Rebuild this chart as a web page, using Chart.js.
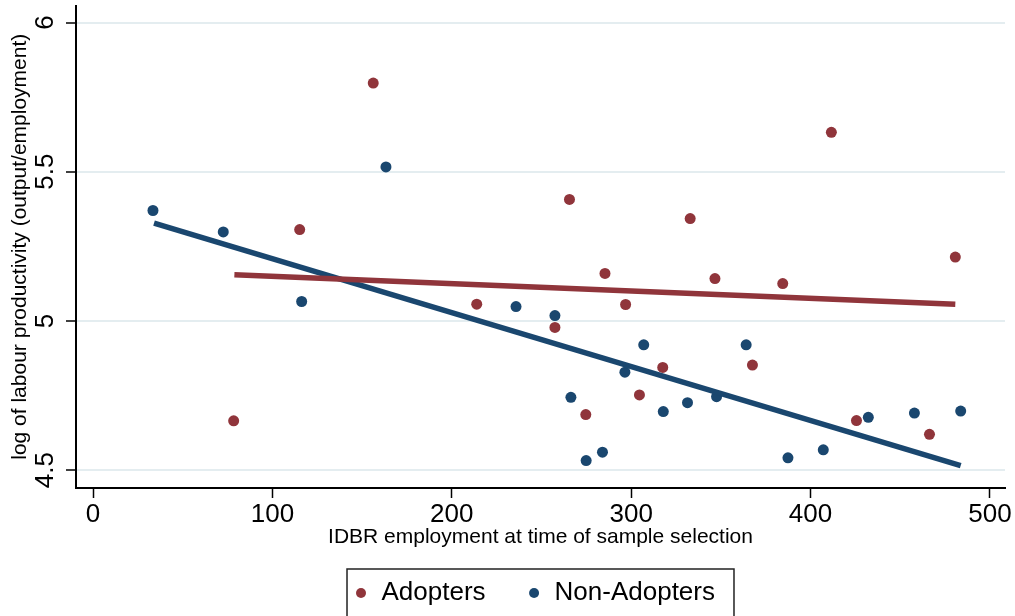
<!DOCTYPE html>
<html>
<head>
<meta charset="utf-8">
<title>Labour productivity vs IDBR employment</title>
<script src="https://cdn.jsdelivr.net/npm/chart.js@4.4.0/dist/chart.umd.min.js"></script>
<style>
  html, body { margin: 0; padding: 0; background: #fff; }
  #wrap { width: 1015px; height: 616px; position: relative; }
</style>
</head>
<body>
<div id="wrap"><canvas id="scatter"></canvas></div>
<script>
// values
const seriesNames = ['Adopters', 'Non-Adopters'];

const adoptersX = [78.4, 115.2, 156.2, 213.9, 257.5, 265.6, 274.7, 285.4, 296.9, 304.6,
                   317.6, 332.9, 346.7, 367.6, 384.5, 411.6, 425.6, 466.3, 480.7];
const adoptersY = [4.665, 5.306, 5.797, 5.056, 4.978, 5.407, 4.686, 5.159, 5.055, 4.752,
                   4.844, 5.343, 5.142, 4.852, 5.125, 5.632, 4.666, 4.620, 5.214];

const nonAdoptersX = [33.4, 72.6, 116.3, 163.3, 235.8, 257.5, 266.4, 274.9, 284.0, 296.5,
                      307.0, 317.9, 331.4, 347.6, 364.1, 387.4, 407.1, 432.2, 457.9, 483.7];
const nonAdoptersY = [5.370, 5.298, 5.065, 5.516, 5.048, 5.018, 4.744, 4.532, 4.560, 4.828,
                      4.920, 4.696, 4.726, 4.746, 4.920, 4.541, 4.568, 4.677, 4.691, 4.698];

// fitted lines (end points)
const adoptersFitX = [78.8, 480.7];
const adoptersFitY = [5.155, 5.056];
const nonAdoptersFitX = [34.0, 483.7];
const nonAdoptersFitY = [5.328, 4.515];

const xTicks = [0, 100, 200, 300, 400, 500];
const yTicks = [4.5, 5, 5.5, 6];
const xTitle = 'IDBR employment at time of sample selection';
const yTitle = 'log of labour productivity (output/employment)';

const maroon = '#90353b';
const navy = '#1a476f';
const fontFamily = '"Liberation Sans", Arial, Helvetica, sans-serif';

const pts = (xs, ys) => xs.map((x, i) => ({ x: x, y: ys[i] }));

// Stata style legend: boxed, under the plot
const boxedLegend = {
  id: 'boxedLegend',
  afterDraw(chart) {
    const ctx = chart.ctx;
    const area = chart.chartArea;
    const sets = chart.data.datasets.filter(d => d.type !== 'line');
    ctx.save();
    ctx.font = '26px ' + fontFamily;
    const widths = sets.map(d => ctx.measureText(d.label).width);
    let boxW = 14 + 19;
    widths.forEach((w, i) => { boxW += 20.5 + w + (i < widths.length - 1 ? 48.5 : 0); });
    const left = (area.left + area.right) / 2 - boxW / 2;
    const top = 569, midY = 593;
    ctx.strokeStyle = '#222';
    ctx.lineWidth = 1.5;
    ctx.strokeRect(left, top, boxW, 80);
    let x = left + 14;
    sets.forEach((d, i) => {
      ctx.fillStyle = d.backgroundColor;
      ctx.beginPath();
      ctx.arc(x, midY, 5, 0, Math.PI * 2);
      ctx.fill();
      ctx.fillStyle = '#000';
      ctx.textAlign = 'left';
      ctx.textBaseline = 'middle';
      ctx.fillText(d.label, x + 20.5, midY);
      x += 20.5 + widths[i] + 48.5;
    });
    ctx.restore();
  }
};

new Chart(document.getElementById('scatter'), {
  type: 'scatter',
  data: {
    datasets: [
      { type: 'line', label: 'fit ' + seriesNames[0], data: pts(adoptersFitX, adoptersFitY),
        borderColor: maroon, borderWidth: 5.5, pointRadius: 0, fill: false, order: 0 },
      { type: 'line', label: 'fit ' + seriesNames[1], data: pts(nonAdoptersFitX, nonAdoptersFitY),
        borderColor: navy, borderWidth: 5.5, pointRadius: 0, fill: false, order: 1 },
      { label: seriesNames[0], data: pts(adoptersX, adoptersY),
        backgroundColor: maroon, borderWidth: 0, pointRadius: 5.5, order: 2 },
      { label: seriesNames[1], data: pts(nonAdoptersX, nonAdoptersY),
        backgroundColor: navy, borderWidth: 0, pointRadius: 5.5, order: 3 }
    ]
  },
  options: {
    responsive: true,
    maintainAspectRatio: false,
    devicePixelRatio: 1,
    animation: false,
    layout: { padding: { top: 5, right: 10, bottom: 66, left: 0 } },
    plugins: {
      legend: { display: false },
      tooltip: { enabled: false }
    },
    scales: {
      x: {
        type: 'linear',
        min: -9.5,
        max: 508.4,
        afterBuildTicks: s => { s.ticks = xTicks.map(v => ({ value: v })); },
        afterFit: s => { s.height = 62; },
        grid: { drawOnChartArea: false, tickLength: 10, tickColor: '#000', tickWidth: 1.5 },
        border: { color: '#000', width: 2 },
        ticks: {
          color: '#000', font: { family: fontFamily, size: 26 }, padding: 1,
          maxRotation: 0, autoSkip: false, callback: v => String(v)
        },
        title: {
          display: true, text: xTitle, color: '#000',
          font: { family: fontFamily, size: 21 }, padding: { top: 0, bottom: 0 }
        }
      },
      y: {
        type: 'linear',
        min: 4.44,
        max: 6.057,
        afterBuildTicks: s => { s.ticks = yTicks.map(v => ({ value: v })); },
        afterFit: s => { s.width = 76; s.paddingTop = 0; s.paddingBottom = 0; },
        grid: { color: '#e4edf0', lineWidth: 2, tickLength: 10, tickColor: '#000', tickWidth: 1.5 },
        border: { color: '#000', width: 2 },
        ticks: {
          color: '#000', font: { family: fontFamily, size: 26 }, padding: 2,
          minRotation: 90, maxRotation: 90, crossAlign: 'center', autoSkip: false,
          callback: v => String(v)
        },
        title: {
          display: true, text: yTitle, color: '#000',
          font: { family: fontFamily, size: 21 }, padding: { top: 8, bottom: 0 }
        }
      }
    }
  },
  plugins: [boxedLegend]
});
</script>
</body>
</html>
